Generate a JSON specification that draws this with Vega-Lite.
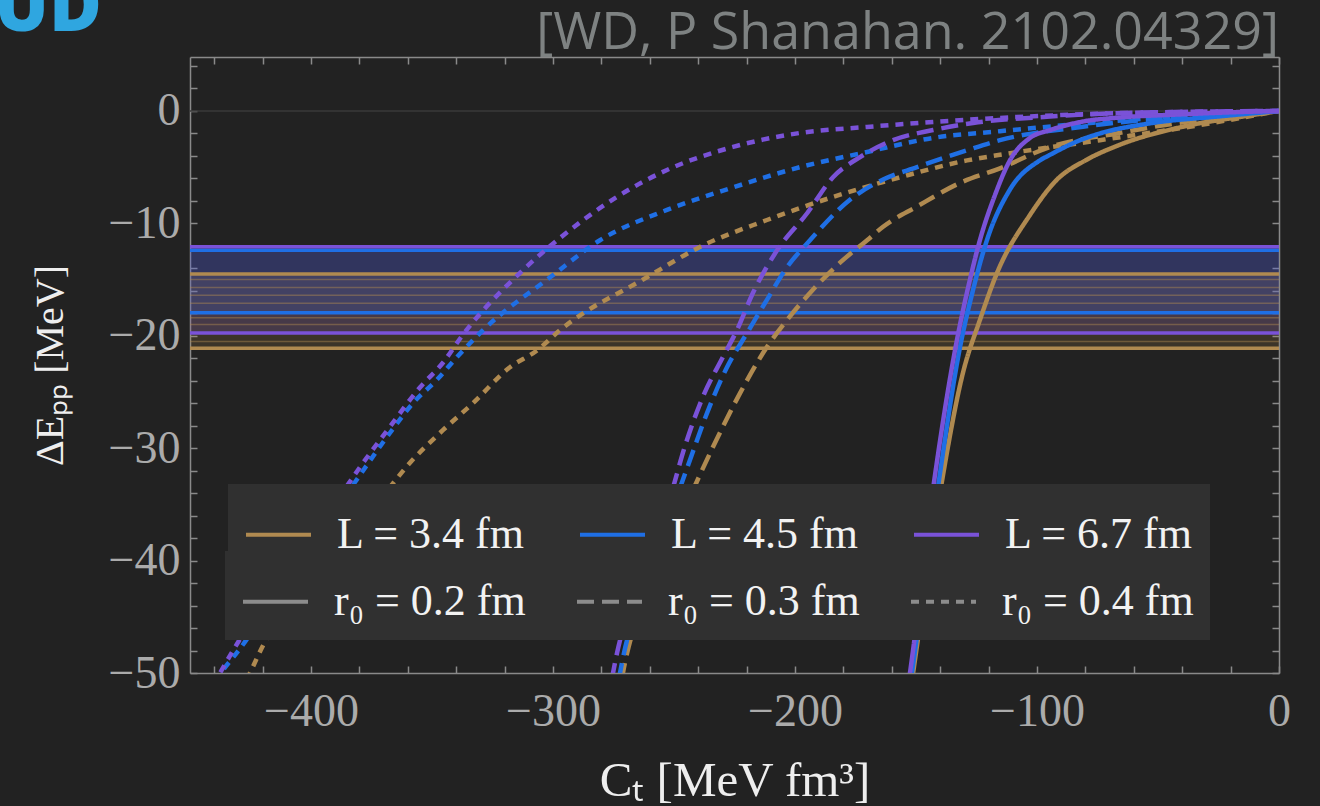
{
  "$schema": "https://vega.github.io/schema/vega-lite/v6.json",
  "width": 1089,
  "height": 616,
  "autosize": {"type": "none"},
  "padding": {"left": 190, "top": 57, "right": 41, "bottom": 133},
  "background": "#222222",
  "config": {"view": {"stroke": null}, "font": "Liberation Serif"},
  "title": {"text": "[WD, P Shanahan. 2102.04329]", "anchor": "end", "frame": "group", "font": "Open Sans", "fontSize": 52, "fontWeight": "normal", "color": "#7e8282", "offset": 5, "dy": 134, "baseline": "alphabetic"},
  "datasets": {
    "zero": [{"y": 0}],
    "bands": [
      {"L": "3.4", "y": -14.5, "y2": -21.1},
      {"L": "4.5", "y": -12.4, "y2": -17.95},
      {"L": "6.7", "y": -12.07, "y2": -19.75}
    ],
    "stripes": [
      {"L": "3.4", "y": -15.0}, {"L": "3.4", "y": -15.7}, {"L": "3.4", "y": -16.4}, {"L": "3.4", "y": -17.1},
      {"L": "3.4", "y": -18.4}, {"L": "3.4", "y": -19.0}, {"L": "3.4", "y": -20.5}
    ],
    "curves": [
      {"L": "3.4", "r": "0.2", "x": -154.5, "y": -55}, {"L": "3.4", "r": "0.2", "x": -151.2, "y": -50}, {"L": "3.4", "r": "0.2", "x": -140.1, "y": -34}, {"L": "3.4", "r": "0.2", "x": -130.6, "y": -23.3}, {"L": "3.4", "r": "0.2", "x": -123.6, "y": -18.6}, {"L": "3.4", "r": "0.2", "x": -116.5, "y": -14.4}, {"L": "3.4", "r": "0.2", "x": -102.9, "y": -9.25}, {"L": "3.4", "r": "0.2", "x": -91.7, "y": -6.1}, {"L": "3.4", "r": "0.2", "x": -80, "y": -4.4}, {"L": "3.4", "r": "0.2", "x": -66.9, "y": -3.1}, {"L": "3.4", "r": "0.2", "x": -39.7, "y": -1.4}, {"L": "3.4", "r": "0.2", "x": -12, "y": -0.4}, {"L": "3.4", "r": "0.2", "x": 0, "y": 0},
      {"L": "3.4", "r": "0.3", "x": -275, "y": -55}, {"L": "3.4", "r": "0.3", "x": -271.1, "y": -50}, {"L": "3.4", "r": "0.3", "x": -256.5, "y": -41}, {"L": "3.4", "r": "0.3", "x": -242.1, "y": -33.7}, {"L": "3.4", "r": "0.3", "x": -233.9, "y": -29.9}, {"L": "3.4", "r": "0.3", "x": -222.7, "y": -25.1}, {"L": "3.4", "r": "0.3", "x": -211.6, "y": -21}, {"L": "3.4", "r": "0.3", "x": -203.3, "y": -18.6}, {"L": "3.4", "r": "0.3", "x": -192.6, "y": -15.9}, {"L": "3.4", "r": "0.3", "x": -181.4, "y": -13.5}, {"L": "3.4", "r": "0.3", "x": -170.2, "y": -11.5}, {"L": "3.4", "r": "0.3", "x": -163.6, "y": -10.3}, {"L": "3.4", "r": "0.3", "x": -149.6, "y": -8.5}, {"L": "3.4", "r": "0.3", "x": -131.8, "y": -6.4}, {"L": "3.4", "r": "0.3", "x": -115.3, "y": -5.1}, {"L": "3.4", "r": "0.3", "x": -94.6, "y": -3.2}, {"L": "3.4", "r": "0.3", "x": -67, "y": -2}, {"L": "3.4", "r": "0.3", "x": -39.7, "y": -1}, {"L": "3.4", "r": "0.3", "x": 0, "y": 0},
      {"L": "3.4", "r": "0.4", "x": -432, "y": -53}, {"L": "3.4", "r": "0.4", "x": -425.2, "y": -50}, {"L": "3.4", "r": "0.4", "x": -421.1, "y": -48.1}, {"L": "3.4", "r": "0.4", "x": -395, "y": -40.5}, {"L": "3.4", "r": "0.4", "x": -369.4, "y": -34}, {"L": "3.4", "r": "0.4", "x": -359.1, "y": -31.3}, {"L": "3.4", "r": "0.4", "x": -345.5, "y": -28.4}, {"L": "3.4", "r": "0.4", "x": -333.1, "y": -26}, {"L": "3.4", "r": "0.4", "x": -317.8, "y": -22.8}, {"L": "3.4", "r": "0.4", "x": -306.6, "y": -21.3}, {"L": "3.4", "r": "0.4", "x": -297.1, "y": -19.5}, {"L": "3.4", "r": "0.4", "x": -261.2, "y": -14.8}, {"L": "3.4", "r": "0.4", "x": -239.3, "y": -12.1}, {"L": "3.4", "r": "0.4", "x": -211.6, "y": -9.7}, {"L": "3.4", "r": "0.4", "x": -184.3, "y": -7.65}, {"L": "3.4", "r": "0.4", "x": -156.6, "y": -5.9}, {"L": "3.4", "r": "0.4", "x": -128.9, "y": -4.4}, {"L": "3.4", "r": "0.4", "x": -115.3, "y": -3.9}, {"L": "3.4", "r": "0.4", "x": -74, "y": -2.6}, {"L": "3.4", "r": "0.4", "x": -32.6, "y": -1.25}, {"L": "3.4", "r": "0.4", "x": 0, "y": 0},
      {"L": "4.5", "r": "0.2", "x": -155, "y": -55}, {"L": "4.5", "r": "0.2", "x": -151.7, "y": -50}, {"L": "4.5", "r": "0.2", "x": -141.3, "y": -34}, {"L": "4.5", "r": "0.2", "x": -131.8, "y": -21}, {"L": "4.5", "r": "0.2", "x": -126.4, "y": -15.9}, {"L": "4.5", "r": "0.2", "x": -120.7, "y": -11.5}, {"L": "4.5", "r": "0.2", "x": -111.2, "y": -7}, {"L": "4.5", "r": "0.2", "x": -98.8, "y": -4.4}, {"L": "4.5", "r": "0.2", "x": -94.6, "y": -3.9}, {"L": "4.5", "r": "0.2", "x": -82.2, "y": -2.6}, {"L": "4.5", "r": "0.2", "x": -74, "y": -2}, {"L": "4.5", "r": "0.2", "x": -53.3, "y": -1.1}, {"L": "4.5", "r": "0.2", "x": -25.6, "y": -0.5}, {"L": "4.5", "r": "0.2", "x": 0, "y": 0},
      {"L": "4.5", "r": "0.3", "x": -276, "y": -55}, {"L": "4.5", "r": "0.3", "x": -272.3, "y": -50}, {"L": "4.5", "r": "0.3", "x": -259.5, "y": -41}, {"L": "4.5", "r": "0.3", "x": -243.4, "y": -31.05}, {"L": "4.5", "r": "0.3", "x": -236.4, "y": -26.9}, {"L": "4.5", "r": "0.3", "x": -228.1, "y": -22.8}, {"L": "4.5", "r": "0.3", "x": -219.8, "y": -19.75}, {"L": "4.5", "r": "0.3", "x": -211.6, "y": -16.8}, {"L": "4.5", "r": "0.3", "x": -203.3, "y": -13.9}, {"L": "4.5", "r": "0.3", "x": -193.8, "y": -11.5}, {"L": "4.5", "r": "0.3", "x": -177.3, "y": -7.9}, {"L": "4.5", "r": "0.3", "x": -163.6, "y": -6.1}, {"L": "4.5", "r": "0.3", "x": -149.6, "y": -5}, {"L": "4.5", "r": "0.3", "x": -128.9, "y": -3.5}, {"L": "4.5", "r": "0.3", "x": -115.3, "y": -2.6}, {"L": "4.5", "r": "0.3", "x": -81, "y": -1.4}, {"L": "4.5", "r": "0.3", "x": -39.7, "y": -0.5}, {"L": "4.5", "r": "0.3", "x": 0, "y": 0},
      {"L": "4.5", "r": "0.4", "x": -446, "y": -53}, {"L": "4.5", "r": "0.4", "x": -435.5, "y": -49.5}, {"L": "4.5", "r": "0.4", "x": -431, "y": -48.3}, {"L": "4.5", "r": "0.4", "x": -408, "y": -41}, {"L": "4.5", "r": "0.4", "x": -385, "y": -34}, {"L": "4.5", "r": "0.4", "x": -367.4, "y": -28.65}, {"L": "4.5", "r": "0.4", "x": -357.9, "y": -26}, {"L": "4.5", "r": "0.4", "x": -347.9, "y": -23.9}, {"L": "4.5", "r": "0.4", "x": -339.7, "y": -21.9}, {"L": "4.5", "r": "0.4", "x": -328.9, "y": -19.5}, {"L": "4.5", "r": "0.4", "x": -301.2, "y": -14.8}, {"L": "4.5", "r": "0.4", "x": -280.6, "y": -11.5}, {"L": "4.5", "r": "0.4", "x": -252.9, "y": -8.8}, {"L": "4.5", "r": "0.4", "x": -225.6, "y": -6.8}, {"L": "4.5", "r": "0.4", "x": -198, "y": -5}, {"L": "4.5", "r": "0.4", "x": -170.2, "y": -3.65}, {"L": "4.5", "r": "0.4", "x": -143, "y": -2.4}, {"L": "4.5", "r": "0.4", "x": -115.3, "y": -1.8}, {"L": "4.5", "r": "0.4", "x": -74, "y": -1}, {"L": "4.5", "r": "0.4", "x": -32.6, "y": -0.35}, {"L": "4.5", "r": "0.4", "x": 0, "y": 0},
      {"L": "6.7", "r": "0.2", "x": -156, "y": -55}, {"L": "6.7", "r": "0.2", "x": -152.5, "y": -50}, {"L": "6.7", "r": "0.2", "x": -143, "y": -33.7}, {"L": "6.7", "r": "0.2", "x": -133.1, "y": -20.4}, {"L": "6.7", "r": "0.2", "x": -127.7, "y": -15}, {"L": "6.7", "r": "0.2", "x": -123.6, "y": -11.5}, {"L": "6.7", "r": "0.2", "x": -117.4, "y": -7.5}, {"L": "6.7", "r": "0.2", "x": -111.2, "y": -4.4}, {"L": "6.7", "r": "0.2", "x": -102.9, "y": -2.4}, {"L": "6.7", "r": "0.2", "x": -94.6, "y": -1.7}, {"L": "6.7", "r": "0.2", "x": -80, "y": -0.9}, {"L": "6.7", "r": "0.2", "x": -66.9, "y": -0.6}, {"L": "6.7", "r": "0.2", "x": -40, "y": -0.3}, {"L": "6.7", "r": "0.2", "x": -20, "y": -0.12}, {"L": "6.7", "r": "0.2", "x": 0, "y": 0},
      {"L": "6.7", "r": "0.3", "x": -279, "y": -55}, {"L": "6.7", "r": "0.3", "x": -275.2, "y": -50}, {"L": "6.7", "r": "0.3", "x": -263, "y": -41}, {"L": "6.7", "r": "0.3", "x": -250.4, "y": -33.5}, {"L": "6.7", "r": "0.3", "x": -246.3, "y": -30.4}, {"L": "6.7", "r": "0.3", "x": -238, "y": -25.4}, {"L": "6.7", "r": "0.3", "x": -229.8, "y": -21.9}, {"L": "6.7", "r": "0.3", "x": -224, "y": -19.5}, {"L": "6.7", "r": "0.3", "x": -217.4, "y": -16.2}, {"L": "6.7", "r": "0.3", "x": -207.4, "y": -12.4}, {"L": "6.7", "r": "0.3", "x": -195, "y": -9.1}, {"L": "6.7", "r": "0.3", "x": -184.3, "y": -5.9}, {"L": "6.7", "r": "0.3", "x": -173.1, "y": -4.1}, {"L": "6.7", "r": "0.3", "x": -159.5, "y": -2.6}, {"L": "6.7", "r": "0.3", "x": -143, "y": -1.7}, {"L": "6.7", "r": "0.3", "x": -126.4, "y": -1.07}, {"L": "6.7", "r": "0.3", "x": -94.6, "y": -0.5}, {"L": "6.7", "r": "0.3", "x": -67, "y": -0.2}, {"L": "6.7", "r": "0.3", "x": 0, "y": 0},
      {"L": "6.7", "r": "0.4", "x": -446, "y": -53.5}, {"L": "6.7", "r": "0.4", "x": -437.6, "y": -50}, {"L": "6.7", "r": "0.4", "x": -432.2, "y": -48}, {"L": "6.7", "r": "0.4", "x": -410, "y": -40.7}, {"L": "6.7", "r": "0.4", "x": -387.2, "y": -34}, {"L": "6.7", "r": "0.4", "x": -379.8, "y": -31.7}, {"L": "6.7", "r": "0.4", "x": -367.4, "y": -28.1}, {"L": "6.7", "r": "0.4", "x": -355, "y": -24.6}, {"L": "6.7", "r": "0.4", "x": -345.5, "y": -22.4}, {"L": "6.7", "r": "0.4", "x": -337.2, "y": -19.9}, {"L": "6.7", "r": "0.4", "x": -313.6, "y": -14.4}, {"L": "6.7", "r": "0.4", "x": -297.1, "y": -11.3}, {"L": "6.7", "r": "0.4", "x": -273.6, "y": -7.65}, {"L": "6.7", "r": "0.4", "x": -252.9, "y": -5.25}, {"L": "6.7", "r": "0.4", "x": -225.6, "y": -3.2}, {"L": "6.7", "r": "0.4", "x": -198, "y": -1.96}, {"L": "6.7", "r": "0.4", "x": -170.2, "y": -1.42}, {"L": "6.7", "r": "0.4", "x": -143, "y": -0.98}, {"L": "6.7", "r": "0.4", "x": -122.3, "y": -0.7}, {"L": "6.7", "r": "0.4", "x": -67, "y": -0.2}, {"L": "6.7", "r": "0.4", "x": 0, "y": 0}
    ]
  },
  "layer": [
    {
      "encoding": {
        "y": {
          "field": "y", "type": "quantitative",
          "scale": {"domain": [-50, 4.8], "nice": false, "zero": false},
          "axis": {
            "orient": "left",
            "values": [-50, -48, -46, -44, -42, -40, -38, -36, -34, -32, -30, -28, -26, -24, -22, -20, -18, -16, -14, -12, -10, -8, -6, -4, -2, 0, 2, 4],
            "labelExpr": "datum.value % 10 === 0 ? datum.label : ''",
            "grid": false, "tickSize": -7, "tickWidth": 1.5, "tickColor": "#8a8a8a",
            "domainColor": "#8a8a8a", "domainWidth": 1.5,
            "labelFont": "Liberation Serif", "labelFontSize": 46, "labelColor": "#ababab", "labelPadding": 17, "labelFlush": false, "labelOverlap": false,
            "title": "ΔEₚₚ [MeV]", "titleFont": "Liberation Serif", "titleFontSize": 40, "titleFontWeight": "normal", "titleColor": "#eeeeee", "titlePadding": 38
          }
        },
        "color": {
          "field": "L", "type": "nominal",
          "scale": {"domain": ["3.4", "4.5", "6.7"], "range": ["#b08a50", "#1f6fe5", "#7a52d8"]},
          "legend": {
            "orient": "none", "legendX": 38, "legendY": 427, "direction": "horizontal", "columns": 3, "title": null,
            "symbolType": "stroke", "symbolSize": 4225, "symbolStrokeWidth": 4, "symbolOpacity": 1, "symbolFillColor": "transparent",
            "labelFont": "Liberation Serif", "labelFontSize": 44, "labelColor": "#f2f2f2", "labelOffset": 24, "labelLimit": 400,
            "columnPadding": 46, "padding": 16, "fillColor": "#303030",
            "labelExpr": "'L = ' + datum.label + ' fm'"
          }
        }
      },
      "layer": [
        {
          "data": {"name": "zero"},
          "mark": {"type": "rule", "strokeWidth": 1.5},
          "encoding": {"color": {"value": "#3a3a3a"}}
        },
        {
          "data": {"name": "bands"},
          "mark": {"type": "rect", "opacity": 0.18},
          "encoding": {"y2": {"field": "y2"}}
        },
        {
          "data": {"name": "stripes"},
          "mark": {"type": "rule", "strokeWidth": 1.5, "opacity": 0.45},
          "encoding": {}
        },
        {
          "data": {"name": "bands"},
          "transform": [{"fold": ["y", "y2"], "as": ["edge", "y"]}],
          "mark": {"type": "rule", "strokeWidth": 3.5},
          "encoding": {}
        },
        {
          "data": {"name": "curves"},
          "mark": {"type": "line", "strokeWidth": 4.5, "clip": true, "strokeCap": "butt", "interpolate": "monotone"},
          "encoding": {
            "x": {
              "field": "x", "type": "quantitative",
              "scale": {"domain": [-450, 0], "nice": false, "zero": false},
              "axis": {
                "orient": "bottom",
                "values": [-440, -420, -400, -380, -360, -340, -320, -300, -280, -260, -240, -220, -200, -180, -160, -140, -120, -100, -80, -60, -40, -20, 0],
                "labelExpr": "datum.value % 100 === 0 ? datum.label : ''",
                "grid": false, "tickSize": -7, "tickWidth": 1.5, "tickColor": "#8a8a8a",
                "domainColor": "#8a8a8a", "domainWidth": 1.5,
                "labelFont": "Liberation Serif", "labelFontSize": 46, "labelColor": "#ababab", "labelPadding": 23, "labelFlush": false, "labelOverlap": false,
                "title": "Cₜ [MeV fm³]", "titleFont": "Liberation Serif", "titleFontSize": 49, "titleFontWeight": "normal", "titleColor": "#eeeeee", "titlePadding": 22
              }
            },
            "strokeDash": {
              "field": "r", "type": "nominal",
              "scale": {"domain": ["0.2", "0.3", "0.4"], "range": [[1, 0], [17, 8], [8, 7]]},
              "legend": {
                "orient": "none", "legendX": 35, "legendY": 494, "direction": "horizontal", "columns": 3, "title": null,
                "symbolType": "stroke", "symbolSize": 4225, "symbolStrokeWidth": 4, "symbolStrokeColor": "#8c8c8c",
                "labelFont": "Liberation Serif", "labelFontSize": 44, "labelColor": "#f2f2f2", "labelOffset": 24, "labelLimit": 400,
                "columnPadding": 43, "padding": 16, "fillColor": "#303030",
                "labelExpr": "'r₀ = ' + datum.label + ' fm'"
              }
            }
          }
        }
      ]
    },
    {
      "data": {"name": "curves"},
      "mark": {"type": "point", "opacity": 0, "clip": true},
      "encoding": {
        "x": {
          "field": "x", "type": "quantitative",
          "scale": {"domain": [-450, 0], "nice": false, "zero": false},
          "axis": {
            "orient": "top",
            "values": [-440, -420, -400, -380, -360, -340, -320, -300, -280, -260, -240, -220, -200, -180, -160, -140, -120, -100, -80, -60, -40, -20, 0],
            "labels": false, "grid": false, "tickSize": -7, "tickWidth": 1.5, "tickColor": "#8a8a8a",
            "domainColor": "#8a8a8a", "domainWidth": 1.5,
            "title": "UD", "titleFont": "Open Sans", "titleFontSize": 72, "titleFontWeight": 800, "titleColor": "#2fa6e0",
            "titleX": -196, "titleY": -27, "titleAlign": "left", "titleBaseline": "alphabetic", "titleAngle": 0
          }
        },
        "y": {
          "field": "y", "type": "quantitative",
          "scale": {"domain": [-50, 4.8], "nice": false, "zero": false},
          "axis": {
            "orient": "right",
            "values": [-50, -48, -46, -44, -42, -40, -38, -36, -34, -32, -30, -28, -26, -24, -22, -20, -18, -16, -14, -12, -10, -8, -6, -4, -2, 0, 2, 4],
            "labels": false, "grid": false, "tickSize": -7, "tickWidth": 1.5, "tickColor": "#8a8a8a",
            "domainColor": "#8a8a8a", "domainWidth": 1.5, "title": null
          }
        }
      }
    }
  ],
  "resolve": {"scale": {"x": "independent", "y": "independent"}}
}
